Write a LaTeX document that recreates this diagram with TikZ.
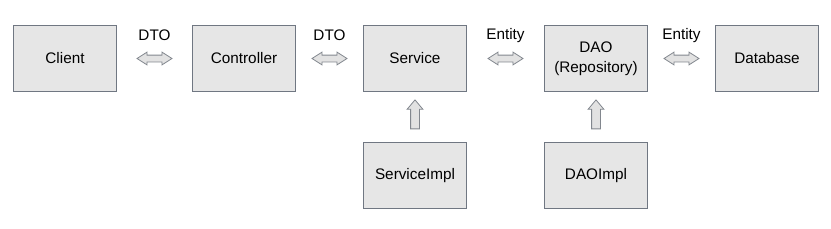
\documentclass[tikz,border=0pt]{standalone}
\usepackage{fontspec}
\setmainfont{Liberation Sans}
\usetikzlibrary{shapes,arrows,positioning,calc}
\definecolor{boxfill}{RGB}{230,230,230}
\definecolor{boxline}{RGB}{112,119,130}
\definecolor{arrowfill}{RGB}{226,226,226}
\definecolor{arrowline}{RGB}{130,135,142}

\begin{document}
\begin{tikzpicture}[
layerbox/.style={
draw=boxline,
line width=1pt,
fill=boxfill,
minimum width=103pt,
minimum height=66pt,
align=center,
font=\fontsize{15.3pt}{20pt}\selectfont
},
flowarrow/.style={
double arrow,
draw=arrowline,
line width=0.8pt,
fill=arrowfill,
inner xsep=0pt,
inner ysep=3pt,
minimum height=35pt,
double arrow head extend=3pt,
double arrow tip angle=65
},
implarrow/.style={
single arrow,
rotate=90,
draw=arrowline,
line width=0.8pt,
fill=arrowfill,
inner xsep=0pt,
inner ysep=4pt,
minimum height=29pt,
single arrow head extend=3.5pt,
single arrow tip angle=80
},
flowlabel/.style={
yshift=23pt,
font=\fontsize{15.3pt}{18pt}\selectfont
}
]
% top row
\node[layerbox] (client) {Client};
\node[layerbox, right=75pt of client] (controller) {Controller};
\node[layerbox, right=67pt of controller] (service) {Service};
\node[layerbox, right=77pt of service] (dao) {DAO\\(Repository)};
\node[layerbox, right=67pt of dao] (database) {Database};

% implementations
\node[layerbox, below=50pt of service] (serviceimpl) {ServiceImpl};
\node[layerbox, below=50pt of dao] (daoimpl) {DAOImpl};

\useasboundingbox ([xshift=-13pt,yshift=25pt]client.north west) rectangle ++(831pt,-228pt);

% data passed between layers
\path (client) -- node[flowarrow] (a1) {} node[flowlabel] (l1) {DTO} (controller);
\path (controller) -- node[flowarrow] (a2) {} node[flowlabel] (l2) {DTO} (service);
\path (service) -- node[flowarrow] (a3) {} node[flowlabel] (l3) {Entity} (dao);
\path (dao) -- node[flowarrow] (a4) {} node[flowlabel] (l4) {Entity} (database);

% implements
\path (serviceimpl) -- node[implarrow] (a5) {} (service);
\path (daoimpl) -- node[implarrow] (a6) {} (dao);
\end{tikzpicture}
\end{document}
